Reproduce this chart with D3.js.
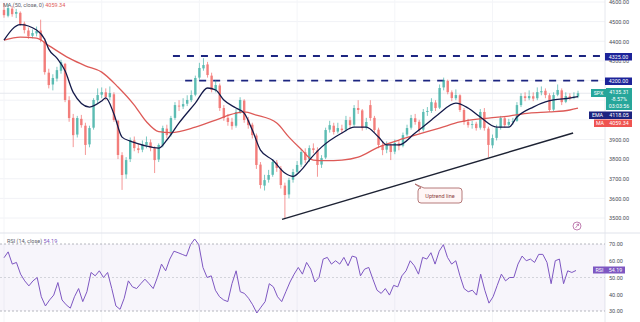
<!DOCTYPE html>
<html>
<head>
<meta charset="utf-8">
<script src="https://cdn.jsdelivr.net/npm/d3@7"></script>
<style>
  body { margin: 0; background: #fff; }
  svg { display: block; }
</style>
</head>
<body>
<div id="chart-area"></div>
<script>
// daily SPX candles
var opens = [4560,4530,4566,4540,4545,4490,4455,4428,4440,4455,
  4400,4240,4180,4210,4250,4285,4100,4010,3925,4005,
  3970,3875,3960,4100,4128,4140,4115,4130,3995,3820,
  3722,3800,3895,3855,3848,3870,3885,3855,3798,3870,
  3955,3925,4010,4072,4068,4082,4100,4128,4215,4262,
  4282,4225,4150,4175,4060,4010,3990,3970,4040,4098,
  4000,3975,3920,3772,3665,3695,3720,3782,3752,3665,
  3620,3695,3735,3772,3835,3798,3855,3845,3772,3808,
  3950,3970,3940,3955,3950,3998,3975,4060,4048,3960,
  4075,4010,3950,3870,3848,3870,3838,3880,3868,3925,
  3960,4008,3990,3950,4040,4045,4088,4062,4165,4198,
  4140,4110,4125,4050,3990,3975,3980,3960,4040,3955,
  3870,3908,3960,4008,3975,3990,3995,4075,4120,4110,
  4120,4110,4140,4148,4125,4052,4128,4150,4092,4120,
  4112,4118];
var closes = [4533,4569,4538,4549,4487,4457,4426,4442,4452,4406,
  4243,4177,4213,4253,4294,4101,4009,3922,4009,3973,
  3872,3958,4101,4126,4141,4116,4136,3999,3821,3719,
  3795,3897,3856,3846,3872,3887,3856,3795,3872,3958,
  3922,4009,4075,4070,4080,4101,4126,4213,4264,4279,
  4228,4152,4177,4060,4009,3989,3968,4040,4101,3999,
  3973,3922,3770,3668,3693,3719,3785,3755,3668,3617,
  3693,3734,3770,3836,3795,3856,3846,3770,3805,3948,
  3973,3938,3958,3948,3999,3973,4060,4050,3958,3989,
  4009,3948,3872,3846,3872,3836,3882,3866,3922,3958,
  4009,3989,3948,4040,4045,4090,4060,4162,4202,4141,
  4111,4126,4050,3989,3973,3978,3958,4040,3958,3872,
  3907,3958,4009,3973,3989,3994,4075,4121,4111,4121,
  4108,4141,4146,4126,4050,4126,4152,4090,4121,4111,
  4118,4135.31];
var highs = [4595,4590,4580,4565,4552,4500,4470,4460,4475,4510,
  4415,4260,4232,4270,4306,4290,4120,4030,4020,4025,
  3985,3970,4110,4160,4165,4160,4170,4140,4000,3835,
  3810,3910,3915,3880,3895,3915,3900,3865,3880,3970,
  3975,4020,4090,4100,4110,4125,4150,4225,4290,4314,
  4295,4240,4202,4185,4075,4030,4010,4055,4115,4105,
  4015,3985,3930,3785,3720,3745,3800,3795,3765,3680,
  3705,3750,3790,3850,3855,3870,3880,3860,3820,3960,
  3995,3985,3985,3975,4020,4015,4075,4100,4055,4010,
  4100,4020,3960,3890,3890,3880,3900,3895,3935,3975,
  4025,4030,4000,4055,4065,4110,4100,4180,4215,4205,
  4150,4155,4130,4060,4005,3995,3990,4055,4060,3965,
  3925,3975,4020,4020,4005,4010,4090,4135,4140,4150,
  4140,4165,4170,4160,4135,4140,4180,4160,4140,4135,
  4140,4148];
var lows = [4520,4522,4525,4518,4478,4440,4412,4415,4425,4395,
  4230,4160,4150,4195,4235,4090,3990,3861,3910,3960,
  3821,3860,3950,4085,4110,4100,4100,3990,3800,3643,
  3700,3785,3840,3830,3835,3855,3840,3729,3785,3860,
  3905,3915,4000,4045,4055,4070,4090,4120,4205,4250,
  4215,4140,4140,4045,3995,3970,3950,3960,4030,3985,
  3955,3905,3750,3650,3640,3680,3710,3735,3650,3497,
  3600,3680,3720,3760,3780,3785,3830,3710,3755,3800,
  3935,3925,3930,3930,3940,3955,3965,4030,3945,3950,
  3995,3935,3855,3820,3830,3795,3825,3845,3860,3915,
  3950,3975,3935,3940,4020,4035,4045,4055,4150,4130,
  4095,4100,4040,3975,3960,3955,3945,3950,3945,3810,
  3855,3895,3950,3960,3965,3975,3990,4065,4095,4100,
  4095,4100,4125,4110,4040,4045,4120,4075,4085,4100,
  4105,4110];

// EMA 20 and MA 50 as [candle index, value]
var emaPoints = [[0,4406],[4,4485],[8,4457],[10,4410],[11,4360],[13,4314],[15,4250],[17,4140],
  [21,4065],[24,4096],[25,4112],[27,4030],[29,3912],[31,3892],[33,3878],[35,3866],[38,3856],
  [40,3897],[43,3984],[47,4085],[50,4162],[52,4152],[54,4101],[57,4060],[59,4034],[61,3948],
  [63,3846],[66,3795],[69,3729],[71,3712],[73,3744],[75,3795],[78,3861],[83,3933],[86,3963],
  [89,3963],[92,3912],[94,3872],[97,3872],[101,3933],[105,3999],[107,4034],[111,4085],
  [114,4060],[117,4014],[121,3963],[124,3963],[126,4014],[130,4065],[133,4091],[135,4101],
  [139,4111],[141,4118.05]];
var maPoints = [[0,4406],[4,4421],[8,4416],[11,4378],[16,4314],[20,4275],[24,4243],[28,4167],
  [32,4075],[35,3990],[38,3940],[41,3935],[47,3963],[52,3999],[57,4034],[59,4040],[62,4024],
  [67,3984],[70,3912],[73,3850],[76,3795],[79,3792],[83,3795],[87,3810],[92,3861],[97,3897],
  [101,3922],[107,3958],[112,3989],[119,4009],[124,4019],[129,4034],[134,4040],[139,4050],
  [141,4059.34]];

var rsiValues = [61.8,65.3,58,59,52,48,45,48,50,38.5,33,36.6,39.5,47,36.6,33.7,31.7,38.5,43.4,35.6,
  41.5,53,51,54,50,53,43.4,33,31,37.6,48,44.4,43.4,46.3,49,46.3,43.4,50,58,54,
  61,65.7,64.8,63.8,62.8,69.6,73,69.6,56,50,51,42.4,38.5,36.6,35.6,46.3,54,41.5,40.5,37.6,
  33.7,28.8,32.3,35.6,46.3,44.4,38.5,35.6,41.5,47.3,52,56,52,59,55,47.3,50,61,62,58,
  60,58,62,57,62.8,62,51,55,56,49,42.4,40.5,43.4,39.5,45.3,44.4,51,54,60,57,
  52,62,61,64.8,58,65.7,69.6,62,58,60,51,43.4,41.5,42.4,39.5,52,42.4,34.7,38.5,45.3,
  52,48,50,50,58,62.8,60,61,59,63.8,63.8,59,46.3,60,61,46.3,54,53,54.19];

var priceTicks = [3500,3600,3700,3800,3900,4000,4100,4200,4300,4400,4500,4600];
// 4000 and 4100 sit under the SPX / EMA / MA boxes, so they get no label
var priceLabels = [3500,3600,3700,3800,3900,4200,4300,4400,4500,4600];
var rsiTicks = [30,40,50,60,70];
var levels = [4325, 4200];
var levelStart = [41.5, 44.5];
var trendIdx = [68.3, 139.8];
var trendVal = [3493, 3933];

var width = 640, height = 322, axisX = 605;
var font = "Roboto, 'Noto Sans', sans-serif";

var svg = d3.select("#chart-area").append("svg")
  .attr("width", width).attr("height", height)
  .style("font-family", font);

var x = d3.scaleLinear().domain([0, closes.length - 1]).range([4, 578]);
var y = d3.scaleLinear().domain([3500, 4600]).range([218, 2]);
var xR = d3.scaleLinear().domain([0, rsiValues.length - 1]).range([4, 576]);
var yR = d3.scaleLinear().domain([30, 70]).range([311, 244]);

// grid
var grid = svg.append("g");
grid.selectAll(".hg").data(priceTicks).enter().append("line")
  .attr("x1", 0).attr("x2", axisX).attr("y1", d => y(d)).attr("y2", d => y(d))
  .attr("stroke", "#f1f2f6").attr("stroke-width", 1);
grid.selectAll(".vg").data(d3.range(0, 142, 24)).enter().append("line")
  .attr("x1", d => x(d)).attr("x2", d => x(d)).attr("y1", 0).attr("y2", height)
  .attr("stroke", "#f4f5f8").attr("stroke-width", 1);
// last price line
svg.append("line").attr("x1", 0).attr("x2", axisX)
  .attr("y1", y(closes[closes.length - 1])).attr("y2", y(closes[closes.length - 1]))
  .attr("stroke", "#e6e8ee").attr("stroke-width", 1);

// pane separators
svg.append("line").attr("x1", axisX).attr("x2", axisX).attr("y1", 0).attr("y2", height)
  .attr("stroke", "#e6e8ee");
svg.append("line").attr("x1", 0).attr("x2", width).attr("y1", 233).attr("y2", 233)
  .attr("stroke", "#e0e3eb");

// resistance lines
svg.selectAll(".lvl").data(levels).enter().append("line")
  .attr("x1", (d, i) => x(levelStart[i])).attr("x2", 602)
  .attr("y1", d => y(d)).attr("y2", d => y(d))
  .attr("stroke", "#1c2580").attr("stroke-width", 1.8)
  .attr("stroke-dasharray", "7,7");

// candles
var candles = svg.append("g").selectAll("g").data(closes).enter().append("g")
  .attr("opacity", 0.75);
candles.append("line")
  .attr("x1", (d, i) => x(i)).attr("x2", (d, i) => x(i))
  .attr("y1", (d, i) => y(highs[i])).attr("y2", (d, i) => y(lows[i]))
  .attr("stroke", (d, i) => d >= opens[i] ? "#26a69a" : "#ef5350")
  .attr("stroke-width", 0.8);
candles.append("rect")
  .attr("x", (d, i) => x(i) - 1.2).attr("width", 2.4)
  .attr("y", (d, i) => y(Math.max(d, opens[i])))
  .attr("height", (d, i) => Math.max(0.8, Math.abs(y(d) - y(opens[i]))))
  .attr("fill", (d, i) => d >= opens[i] ? "#26a69a" : "#ef5350");

// moving averages
var maLine = d3.line().x(d => x(d[0])).y(d => y(d[1])).curve(d3.curveMonotoneX);
svg.append("path").attr("d", maLine(maPoints))
  .attr("fill", "none").attr("stroke", "#dd5a57").attr("stroke-width", 1.3);
svg.append("path").attr("d", maLine(emaPoints))
  .attr("fill", "none").attr("stroke", "#141a4a").attr("stroke-width", 1.3);

// uptrend line
svg.append("line")
  .attr("x1", x(trendIdx[0])).attr("y1", y(trendVal[0]))
  .attr("x2", x(trendIdx[1])).attr("y2", y(trendVal[1]))
  .attr("stroke", "#1d2233").attr("stroke-width", 1.5);

// callout
var call = svg.append("g");
call.append("path")
  .attr("d", "M421,188 L415,184 L424,188 L459,188 Q462,188 462,191 L462,200 Q462,203 459,203 L421,203 Q418,203 418,200 L418,191 Q418,188 421,188 Z")
  .attr("fill", "#fff6f6").attr("stroke", "#a35a5a").attr("stroke-width", 0.8);
call.append("text").attr("x", 440).attr("y", 197.6).attr("text-anchor", "middle")
  .attr("font-size", "5.5px").attr("fill", "#8e3f3f").text("Uptrend line");

// small icon
svg.append("circle").attr("cx", 577).attr("cy", 226).attr("r", 4)
  .attr("fill", "#fff").attr("stroke", "#b0609e").attr("stroke-width", 0.8);
svg.append("path").attr("d", "M575.5,228 L578.5,224 M576.5,224.5 L578.5,224 L578.6,226")
  .attr("fill", "none").attr("stroke", "#b0609e").attr("stroke-width", 0.7);

// price axis
var yAxisCall = d3.axisRight(y).tickValues(priceLabels).tickSize(0).tickPadding(4)
  .tickFormat(d3.format(".2f"));
var yAx = svg.append("g").attr("transform", "translate(" + axisX + ",0)").call(yAxisCall);
yAx.select(".domain").remove();
yAx.attr("font-family", font).selectAll("text").attr("font-size", "5.5px").attr("fill", "#4a4d57");

// RSI pane
svg.append("rect").attr("x", 0).attr("width", axisX).attr("y", yR(70)).attr("height", yR(30) - yR(70))
  .attr("fill", "#7e57c2").attr("opacity", 0.06);
svg.selectAll(".rl").data([70, 50, 30]).enter().append("line")
  .attr("x1", 0).attr("x2", axisX).attr("y1", d => yR(d)).attr("y2", d => yR(d))
  .attr("stroke", d => d === 50 ? "#c9cbd3" : "#a3a6af").attr("stroke-width", 0.8)
  .attr("stroke-dasharray", "2,2");
var rsiLine = d3.line().x((d, i) => xR(i)).y(d => yR(d));
svg.append("path").attr("d", rsiLine(rsiValues))
  .attr("fill", "none").attr("stroke", "#7e57c2").attr("stroke-width", 1);

var rAxisCall = d3.axisRight(yR).tickValues(rsiTicks).tickSize(0).tickPadding(4)
  .tickFormat(d3.format(".2f"));
var rAx = svg.append("g").attr("transform", "translate(" + axisX + ",0)").call(rAxisCall);
rAx.select(".domain").remove();
rAx.attr("font-family", font).selectAll("text").attr("font-size", "5.5px").attr("fill", "#4a4d57");

// legends
var leg = svg.append("text").attr("x", 3).attr("y", 7).attr("font-size", "5.5px");
leg.append("tspan").attr("fill", "#5d606b").text("MA (50, close, 0) ");
leg.append("tspan").attr("fill", "#e05a57").text("4059.34");
var leg2 = svg.append("text").attr("x", 7).attr("y", 243).attr("font-size", "5.5px");
leg2.append("tspan").attr("fill", "#5d606b").text("RSI (14, close) ");
leg2.append("tspan").attr("fill", "#7e57c2").text("54.19");

// axis value boxes
function box(x0, y0, w, h, fill, lines) {
  svg.append("rect").attr("x", x0).attr("y", y0).attr("width", w).attr("height", h)
    .attr("fill", fill);
  lines.forEach(function(t, k) {
    svg.append("text").attr("x", x0 + w / 2).attr("y", y0 + 5.6 + k * 7)
      .attr("text-anchor", "middle").attr("font-size", "5.3px").attr("fill", "#fff").text(t);
  });
}
box(605, 53, 27, 7.5, "#1c2399", ["4325.00"]);
box(605, 77.5, 27, 7.5, "#1c2399", ["4200.00"]);
box(591, 89, 15, 8, "#26a69a", ["SPX"]);
box(606, 88, 26, 22, "#26a69a", ["4135.31", "-8.57%", "03:03:56"]);
box(589, 111.5, 17, 7.5, "#1c2380", ["EMA"]);
box(606, 111.5, 26, 7.5, "#1c2380", ["4118.05"]);
box(594, 119.5, 12, 7.5, "#ef5350", ["MA"]);
box(606, 119.5, 26, 7.5, "#ef5350", ["4059.34"]);
box(593, 266.5, 13, 7, "#7e57c2", ["RSI"]);
box(606, 266.5, 19, 7, "#7e57c2", ["54.19"]);
</script>
</body>
</html>
